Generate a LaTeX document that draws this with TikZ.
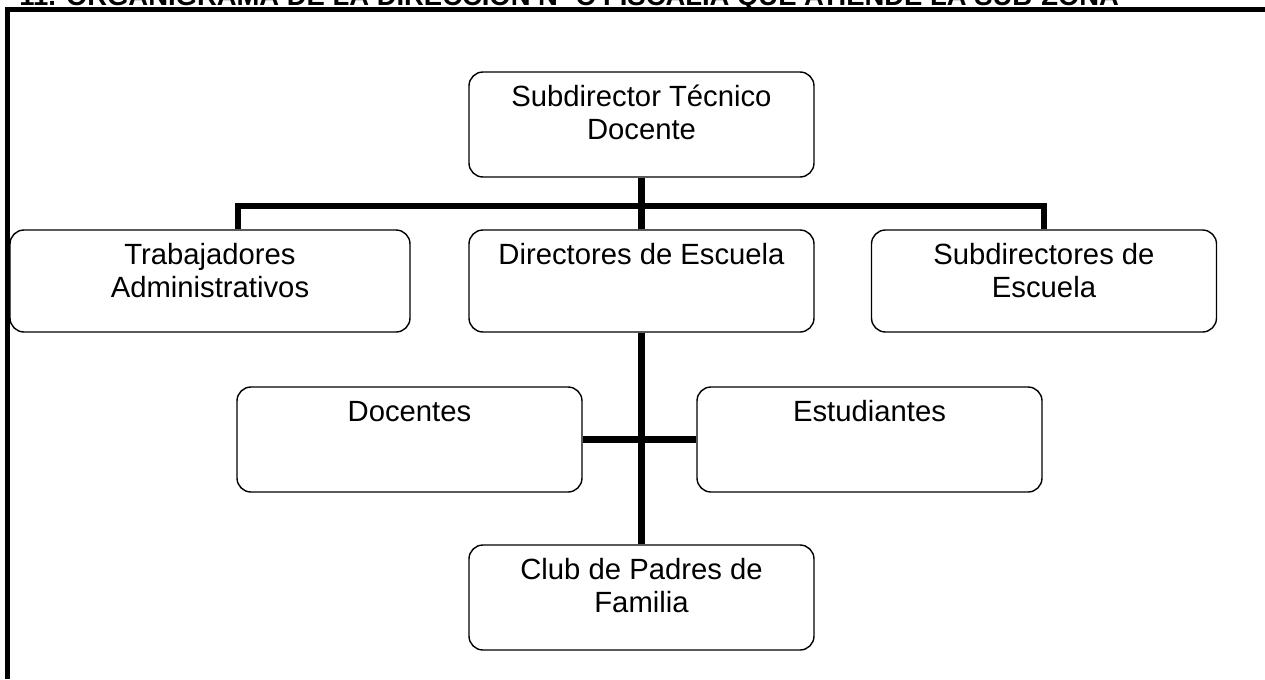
\documentclass[tikz,border=0pt]{standalone}
\usepackage{fontspec}
\setmainfont{Liberation Sans}
\usepackage{tikz}
\newlength{\pxu}
\setlength{\pxu}{0.025cm}
\newcommand{\unitWidth}{345}
\newcommand{\unitHeight}{105}
\newcommand{\wideWidth}{400}
\newcommand{\lowHeight}{102}
\newcommand{\firstBaseline}{24.5pt}
\newcommand{\unitLabel}[3]{\parbox[c][#2\pxu][t]{#1\pxu}{\centering\rule{0pt}{\firstBaseline}#3}}
\newcommand{\headingText}{11. ORGANIGRAMA DE LA DIRECCIÓN Nº C FISCALIA QUE ATIENDE LA SUB-ZONA}
\tikzset{
	unit/.style={draw, line width=1pt, rounded corners=14\pxu, inner sep=0pt, font=\fontsize{20.8pt}{23.5pt}\selectfont},
	link/.style={line width=4.3pt},
	frame/.style={line width=3.3pt},
	heading/.style={font=\fontsize{19.5pt}{22pt}\selectfont\bfseries, inner sep=0pt, anchor=base west}
}
\begin{document}
\begin{tikzpicture}[x=\pxu, y=-\pxu]
	
		\useasboundingbox (0,0) rectangle (1265,679);
		\clip (0,0) rectangle (1265,679);
		
		\node[heading] (title) at (19,5) {\headingText}; % only its lower part shows
		\draw[frame] (7.5,679) -- (7.5,9.5) -- (1265,9.5);
		
		\node[unit] (subtec) at (641.5,124.5) {\unitLabel{\unitWidth}{\unitHeight}{Subdirector Técnico\\Docente}};
		
		\node[unit] (trab) at (210,281) {\unitLabel{\wideWidth}{\lowHeight}{Trabajadores\\Administrativos}};
		\node[unit] (dir) at (641.5,281) {\unitLabel{\unitWidth}{\lowHeight}{Directores de Escuela}};
		\node[unit] (subesc) at (1044,281) {\unitLabel{\unitWidth}{\lowHeight}{Subdirectores de\\Escuela}};
		
		\node[unit] (doc) at (409.5,439.5) {\unitLabel{\unitWidth}{\unitHeight}{Docentes}};
		\node[unit] (est) at (869.5,439.5) {\unitLabel{\unitWidth}{\unitHeight}{Estudiantes}};
		
		\node[unit] (club) at (641.5,597.5) {\unitLabel{\unitWidth}{\unitHeight}{Club de Padres de\\Familia}};
		
		\coordinate (bus) at (641.5,206);
		\draw[link] (subtec.south) -- (dir.north);
		\draw[link] ([xshift=28\pxu]trab.north) |- (bus) -| (subesc.north);
		\draw[link] (dir.south) -- (club.north);
		\draw[link] (doc.east) -- (est.west);
	\end{tikzpicture}
\end{document}
